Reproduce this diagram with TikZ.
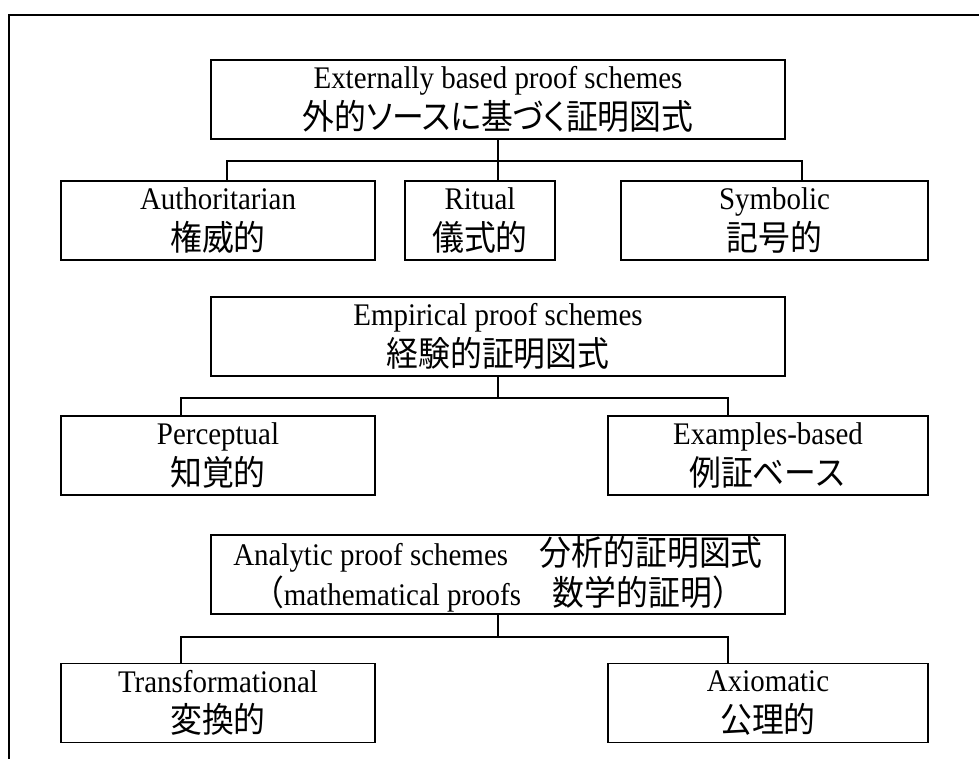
\documentclass[tikz,border=0pt]{standalone}
\usepackage{fontspec}
\setmainfont{Liberation Serif}[FakeStretch=0.92]
\newfontfamily\jp{Noto Sans CJK JP}[Scale=1.1, FakeStretch=0.92]
\newfontfamily\jpp{Noto Sans CJK JP}[Scale=1.1, FakeStretch=0.92, RawFeature=+palt]
\usepackage{tikz}
\usetikzlibrary{calc,positioning}

\begin{document}
\begin{tikzpicture}[
  every node/.style={font=\fontsize{17.9}{23}\selectfont},
  box/.style={draw, line width=1pt, minimum width=#1, minimum height=1.58cm,
              align=center, inner sep=0pt},
  conn/.style={line width=0.75pt},
  frame/.style={line width=1.1pt},
]
\useasboundingbox (0,0) rectangle (19.58,-15.16);

%% ── Outer frame ─────────────────────────────────────────────────────────
\draw[frame] (0.18,-15.3) -- (0.18,-0.30) -- (19.7,-0.30);

%% ── Externally based ────────────────────────────────────────────────────
\node[box=11.48cm] (EX) at (9.96, -1.99)  {Externally based proof schemes\\{\jpp 外的ソースに基づく証明図式}};
\node[box=6.28cm]  (AU) at (4.36, -4.41)  {Authoritarian\\{\jp 権威的}};
\node[box=3.00cm]  (RI) at (9.60, -4.41)  {Ritual\\{\jp 儀式的}};
\node[box=6.14cm]  (SY) at (15.49, -4.41) {Symbolic\\{\jp 記号的}};

\draw[conn] (EX.south) -- ++(0,-0.42) coordinate (b1);
\draw[conn] ([xshift=0.18cm]AU.north) |- (b1) -| ([xshift=0.55cm]SY.north);
\draw[conn] (b1) -- (b1 |- RI.north);

%% ── Empirical ───────────────────────────────────────────────────────────
\node[box=11.48cm] (EM) at (9.96, -6.73)  {Empirical proof schemes\\{\jp 経験的証明図式}};
\node[box=6.28cm]  (PE) at (4.36, -9.11)  {Perceptual\\{\jp 知覚的}};
\node[box=6.40cm]  (EB) at (15.36, -9.11) {Examples-based\\{\jp 例証ベース}};

\draw[conn] (EM.south) -- ++(0,-0.42) coordinate (b2);
\draw[conn] ([xshift=-0.74cm]PE.north) |- (b2) -| ([xshift=-0.80cm]EB.north);

%% ── Analytic ────────────────────────────────────────────────────────────
\node[box=11.48cm] (AN) at (9.96, -11.49) {Analytic proof schemes{\jp　分析的証明図式}\\{\jp（}mathematical proofs{\jp　数学的証明）}};
\node[box=6.28cm]  (TR) at (4.36, -14.06) {Transformational\\{\jp 変換的}};
\node[box=6.40cm]  (AX) at (15.36, -14.06) {Axiomatic\\{\jp 公理的}};

\draw[conn] (AN.south) -- ++(0,-0.44) coordinate (b3);
\draw[conn] ([xshift=-0.74cm]TR.north) |- (b3) -| ([xshift=-0.80cm]AX.north);
\end{tikzpicture}
\end{document}
